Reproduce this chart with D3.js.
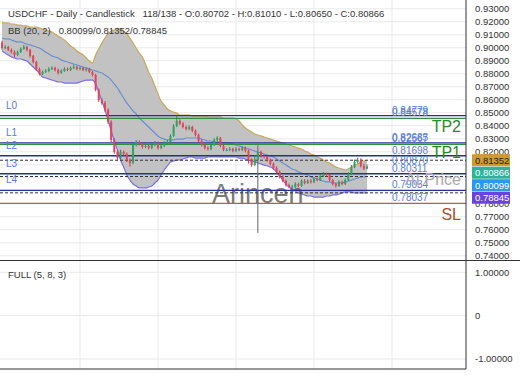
<!DOCTYPE html>
<html><head><meta charset="utf-8">
<script src="https://cdn.jsdelivr.net/npm/d3@7"></script>
<style>
html,body{margin:0;padding:0;background:#fff;}
svg{display:block;font-family:"Liberation Sans",Arial,sans-serif;}
</style></head><body>
<svg id="c" width="520" height="390"></svg>
<script>
// ---------- DATA ----------
const openP = [0.9040,0.8999,0.9007,0.8984,0.8968,0.8945,0.8968,0.8991,0.9007,0.8984,
0.8937,0.8891,0.8837,0.8799,0.8814,0.8822,0.8837,0.8845,0.8830,0.8807,
0.8822,0.8837,0.8830,0.8845,0.8853,0.8837,0.8845,0.8830,0.8837,0.8814,
0.8791,0.8676,0.8599,0.8576,0.8522,0.8430,0.8291,0.8199,0.8153,0.8199,
0.8184,0.8138,0.8115,0.8253,0.8276,0.8261,0.8238,0.8245,0.8230,0.8253,
0.8268,0.8230,0.8245,0.8268,0.8276,0.8322,0.8399,0.8438,0.8415,0.8391,
0.8376,0.8391,0.8361,0.8330,0.8284,0.8253,0.8230,0.8222,0.8253,0.8291,
0.8307,0.8245,0.8215,0.8215,0.8222,0.8207,0.8222,0.8215,0.8230,0.8207,
0.8138,0.8099,0.8138,0.8199,0.8168,0.8161,0.8138,0.8107,0.8076,0.8045,
0.8007,0.7976,0.7945,0.7930,0.7930,0.7953,0.7938,0.7976,0.7961,0.7976,
0.7968,0.7991,0.7984,0.8014,0.8030,0.8022,0.7984,0.7953,0.7938,0.7968,
0.7953,0.7984,0.8030,0.8084,0.8122,0.8138,0.8091,0.80702];
const closeP = [0.8999,0.9007,0.8984,0.8968,0.8945,0.8968,0.8991,0.9007,0.8984,0.8937,
0.8891,0.8837,0.8799,0.8814,0.8822,0.8837,0.8845,0.8830,0.8807,0.8822,
0.8837,0.8830,0.8845,0.8853,0.8837,0.8845,0.8830,0.8837,0.8814,0.8791,
0.8676,0.8599,0.8576,0.8522,0.8430,0.8291,0.8199,0.8153,0.8199,0.8184,
0.8138,0.8115,0.8253,0.8276,0.8261,0.8238,0.8245,0.8230,0.8253,0.8268,
0.8230,0.8245,0.8268,0.8276,0.8322,0.8399,0.8438,0.8415,0.8391,0.8376,
0.8391,0.8361,0.8330,0.8284,0.8253,0.8230,0.8222,0.8253,0.8291,0.8307,
0.8245,0.8215,0.8215,0.8222,0.8207,0.8222,0.8215,0.8230,0.8207,0.8138,
0.8099,0.8138,0.8199,0.8168,0.8161,0.8138,0.8107,0.8076,0.8045,0.8007,
0.7976,0.7945,0.7930,0.7930,0.7953,0.7938,0.7976,0.7961,0.7976,0.7968,
0.7991,0.7984,0.8014,0.8030,0.8022,0.7984,0.7953,0.7938,0.7968,0.7953,
0.7984,0.8030,0.8084,0.8122,0.8138,0.8091,0.8070,0.80866];
const highP = [0.9055,0.9020,0.9015,0.8995,0.8980,0.8978,0.9003,0.9020,0.9015,0.8992,
0.8945,0.8900,0.8848,0.8825,0.8835,0.8850,0.8858,0.8855,0.8840,0.8834,
0.8850,0.8848,0.8856,0.8866,0.8862,0.8857,0.8854,0.8850,0.8846,0.8822,
0.8800,0.8688,0.8612,0.8590,0.8535,0.8442,0.8305,0.8212,0.8215,0.8210,
0.8195,0.8150,0.8268,0.8290,0.8288,0.8272,0.8262,0.8258,0.8266,0.8282,
0.8278,0.8258,0.8280,0.8290,0.8335,0.8412,0.8478,0.8450,0.8428,0.8402,
0.8404,0.8400,0.8372,0.8340,0.8295,0.8265,0.8242,0.8265,0.8305,0.8320,
0.8315,0.8255,0.8228,0.8235,0.8232,0.8236,0.8232,0.8242,0.8240,0.8215,
0.8150,0.8175,0.8250,0.8210,0.8180,0.8172,0.8148,0.8118,0.8088,0.8056,
0.8018,0.7988,0.7956,0.7945,0.7966,0.7962,0.7988,0.7990,0.7988,0.7990,
0.8004,0.8002,0.8026,0.8045,0.8040,0.8030,0.7992,0.7962,0.7980,0.7978,
0.7995,0.8042,0.8098,0.8140,0.8155,0.8150,0.8110,0.81010];
const lowP = [0.8985,0.8990,0.8975,0.8955,0.8930,0.8938,0.8960,0.8985,0.8972,0.8925,
0.8880,0.8825,0.8788,0.8790,0.8805,0.8812,0.8828,0.8818,0.8795,0.8800,
0.8815,0.8820,0.8822,0.8836,0.8828,0.8827,0.8820,0.8818,0.8805,0.8780,
0.8665,0.8585,0.8562,0.8508,0.8415,0.8275,0.8185,0.8135,0.8140,0.8170,
0.8120,0.8085,0.8105,0.8240,0.8248,0.8225,0.8228,0.8218,0.8220,0.8242,
0.8218,0.8220,0.8236,0.8258,0.8265,0.8315,0.8390,0.8405,0.8380,0.8365,
0.8366,0.8350,0.8318,0.8272,0.8240,0.8218,0.8210,0.8212,0.8245,0.8280,
0.8235,0.8205,0.8203,0.8205,0.8196,0.8198,0.8204,0.8205,0.8196,0.8110,
0.8085,0.8090,0.7576,0.8155,0.8148,0.8125,0.8095,0.8064,0.8032,0.7995,
0.7965,0.7932,0.7918,0.7920,0.7922,0.7926,0.7930,0.7950,0.7952,0.7956,
0.7958,0.7972,0.7975,0.8005,0.8010,0.7972,0.7940,0.7925,0.7930,0.7942,
0.7945,0.7975,0.8020,0.8075,0.8110,0.8080,0.8060,0.80650];
const bbUpper = [0.9198,0.9191,0.9191,0.9183,0.9183,0.9175,0.9175,0.9168,0.9168,0.9160,
0.9160,0.9160,0.9152,0.9145,0.9137,0.9129,0.9122,0.9106,0.9091,0.9075,
0.9060,0.9037,0.9014,0.8998,0.8975,0.8960,0.8945,0.8922,0.8898,0.8883,
0.8945,0.8991,0.9037,0.9075,0.9106,0.9129,0.9137,0.9145,0.9145,0.9129,
0.9106,0.9075,0.9037,0.8998,0.8960,0.8929,0.8875,0.8814,0.8768,0.8706,
0.8645,0.8591,0.8560,0.8529,0.8514,0.8506,0.8498,0.8483,0.8483,0.8483,
0.8483,0.8475,0.8475,0.8475,0.8475,0.8475,0.8468,0.8468,0.8468,0.8468,
0.8468,0.8460,0.8460,0.8460,0.8460,0.8452,0.8437,0.8406,0.8383,0.8368,
0.8352,0.8337,0.8329,0.8322,0.8314,0.8306,0.8298,0.8291,0.8283,0.8275,
0.8268,0.8260,0.8252,0.8245,0.8237,0.8229,0.8222,0.8206,0.8198,0.8183,
0.8175,0.8160,0.8152,0.8137,0.8122,0.8114,0.8098,0.8083,0.8075,0.8068,
0.8060,0.8068,0.8083,0.8098,0.8106,0.8122,0.8129,0.81352];
const bbMid = [0.9075,0.9068,0.9068,0.9060,0.9052,0.9045,0.9045,0.9037,0.9029,0.9022,
0.9014,0.9006,0.8998,0.8983,0.8968,0.8952,0.8937,0.8929,0.8922,0.8906,
0.8898,0.8891,0.8883,0.8875,0.8868,0.8860,0.8852,0.8845,0.8837,0.8829,
0.8822,0.8814,0.8806,0.8791,0.8775,0.8752,0.8722,0.8691,0.8652,0.8614,
0.8575,0.8545,0.8514,0.8491,0.8460,0.8437,0.8414,0.8391,0.8368,0.8345,
0.8322,0.8306,0.8298,0.8291,0.8291,0.8291,0.8298,0.8298,0.8298,0.8306,
0.8306,0.8306,0.8306,0.8306,0.8298,0.8291,0.8283,0.8283,0.8275,0.8275,
0.8275,0.8268,0.8268,0.8268,0.8260,0.8252,0.8245,0.8237,0.8229,0.8222,
0.8214,0.8206,0.8198,0.8191,0.8183,0.8175,0.8168,0.8160,0.8145,0.8129,
0.8114,0.8098,0.8083,0.8068,0.8060,0.8045,0.8037,0.8029,0.8022,0.8006,
0.7998,0.7991,0.7983,0.7975,0.7968,0.7968,0.7960,0.7960,0.7960,0.7960,
0.7968,0.7975,0.7983,0.7991,0.7998,0.8006,0.8006,0.80099];
const bbLower = [0.8975,0.8960,0.8945,0.8929,0.8922,0.8914,0.8914,0.8906,0.8898,0.8875,
0.8852,0.8829,0.8806,0.8775,0.8768,0.8760,0.8752,0.8745,0.8737,0.8737,
0.8729,0.8729,0.8729,0.8729,0.8729,0.8737,0.8745,0.8752,0.8752,0.8752,
0.8722,0.8660,0.8591,0.8522,0.8445,0.8360,0.8283,0.8214,0.8137,0.8083,
0.8022,0.7983,0.7952,0.7937,0.7922,0.7922,0.7922,0.7929,0.7937,0.7960,
0.7983,0.8022,0.8060,0.8091,0.8122,0.8129,0.8137,0.8137,0.8145,0.8152,
0.8160,0.8160,0.8152,0.8152,0.8152,0.8152,0.8160,0.8160,0.8160,0.8160,
0.8160,0.8160,0.8160,0.8160,0.8160,0.8160,0.8152,0.8152,0.8145,0.8137,
0.8129,0.8122,0.8114,0.8106,0.8098,0.8091,0.8083,0.8068,0.8045,0.8014,
0.7983,0.7952,0.7929,0.7914,0.7898,0.7883,0.7875,0.7868,0.7860,0.7860,
0.7852,0.7852,0.7852,0.7852,0.7860,0.7860,0.7868,0.7868,0.7875,0.7883,
0.7891,0.7891,0.7891,0.7883,0.7883,0.7883,0.7883,0.78845];

const levelNames = ["L0","L1","L2","L3","L4"];
const levelValues = [0.84779,0.82685,0.81698,0.80311,0.79034];
const tpNames = ["TP2","TP1"];
const tpValues = [0.84578,0.82567];
const entryName = "At Price";
const entryValue = 0.80870;
const slName = "SL";
const slValue = 0.78037;
const bbLastValues = [0.81352,0.80099,0.78845];
const lastClose = 0.80866;
const priceTicks = [0.93,0.92,0.91,0.90,0.89,0.88,0.87,0.86,0.85,0.84,0.83,0.82,0.81,0.80,0.79,0.78,0.77,0.76,0.75,0.74];
const oscTicks = [1,0,-1];
const oscTickLabels = ["1.00000","0","-1.00000"];
const gridBars = [25,50,75,100,125];
const titleText = "USDCHF - Daily - Candlestick   118/138 - O:0.80702 - H:0.81010 - L:0.80650 - C:0.80866";
const bbTitle = "BB (20, 2)   0.80099/0.81352/0.78845";
const oscTitle = "FULL (5, 8, 3)";
const watermark = "Arincen";

// ---------- LAYOUT ----------
const plotRight = 466, mainBottom = 260.5, oscBottom = 369;
const x = d3.scaleLinear().domain([0,125]).range([2,392]);
const y = d3.scaleLinear().domain([0.74,0.93]).range([255.8,8.8]);
const yo = d3.scaleLinear().domain([-1,1]).range([359,272.3]);
const idx = d3.range(closeP.length);
const FONT = '"Liberation Sans",Arial,sans-serif';

const svg = d3.select("#c");
const defs = svg.append("defs");
defs.append("clipPath").attr("id","clipMain").append("rect").attr("x",0).attr("y",0).attr("width",plotRight).attr("height",mainBottom);
defs.append("clipPath").attr("id","clipAxis").append("rect").attr("x",0).attr("y",0).attr("width",60).attr("height",mainBottom);

const main = svg.append("g").attr("clip-path","url(#clipMain)");

// grid
main.selectAll("line.hg").data(priceTicks).join("line")
  .attr("x1",0).attr("x2",plotRight).attr("y1",d=>y(d)).attr("y2",d=>y(d))
  .attr("stroke","#e9e9e9").attr("stroke-width",1);
main.selectAll("line.vg").data(gridBars).join("line")
  .attr("x1",d=>x(d)).attr("x2",d=>x(d)).attr("y1",0).attr("y2",mainBottom)
  .attr("stroke","#e9e9e9").attr("stroke-width",1);

// Bollinger band fill + lines
const curve = d3.curveMonotoneX;
main.append("path").datum(idx)
  .attr("d", d3.area().x(i=>x(i)).y0(i=>y(bbLower[i])).y1(i=>y(bbUpper[i])).curve(curve))
  .attr("fill","#c2c2c2");
const bbLine = (arr,color)=> main.append("path").datum(idx)
  .attr("d", d3.line().x(i=>x(i)).y(i=>y(arr[i])).curve(curve))
  .attr("fill","none").attr("stroke",color).attr("stroke-width",1.2);
bbLine(bbUpper,"#c9a85a");
bbLine(bbMid,"#6a8fd0");
bbLine(bbLower,"#7b6fe6");

// watermark
main.append("text").text(watermark).attr("x",212).attr("y",203)
  .attr("font-size",27).attr("font-family",FONT).attr("fill","#555").attr("fill-opacity",0.8);

// dotted lines at current BB values
main.selectAll("line.bbl").data(bbLastValues).join("line")
  .attr("x1",0).attr("x2",plotRight).attr("y1",d=>y(d)).attr("y2",d=>y(d))
  .attr("stroke","#333").attr("stroke-width",1).attr("stroke-dasharray","3,2");

// level lines
main.selectAll("line.lv").data(levelValues).join("line")
  .attr("x1",0).attr("x2",plotRight).attr("y1",d=>y(d)).attr("y2",d=>y(d))
  .attr("stroke","#27308f").attr("stroke-width",1.3);
main.selectAll("line.tp").data(tpValues).join("line")
  .attr("x1",0).attr("x2",plotRight).attr("y1",d=>y(d)).attr("y2",d=>y(d))
  .attr("stroke","#2f8f3a").attr("stroke-width",1.3);
main.append("line").attr("x1",0).attr("x2",plotRight).attr("y1",y(slValue)).attr("y2",y(slValue))
  .attr("stroke","#b0683a").attr("stroke-width",1.3);

// candles
const cg = main.append("g");
cg.selectAll("line.w").data(idx).join("line")
  .attr("x1",i=>x(i)).attr("x2",i=>x(i)).attr("y1",i=>y(highP[i])).attr("y2",i=>y(lowP[i]))
  .attr("stroke",i=> i===82 ? "#666" : (closeP[i]>=openP[i]?"#2b8a55":"#c83c55")).attr("stroke-width",1);
cg.selectAll("rect.b").data(idx).join("rect")
  .attr("x",i=>x(i)-1).attr("width",2)
  .attr("y",i=>y(Math.max(openP[i],closeP[i])))
  .attr("height",i=>Math.max(1,Math.abs(y(openP[i])-y(closeP[i]))))
  .attr("fill",i=>closeP[i]>=openP[i]?"#2fa462":"#e2435f");

// level labels
const allVals = levelValues.concat(tpValues,[entryValue,slValue]);
main.selectAll("text.lvv").data(allVals).join("text")
  .attr("x",392).attr("y",d=>y(d)-2).text(d=>d3.format(".5f")(d))
  .attr("font-size",10).attr("font-family",FONT).attr("fill","#5a7ed6");
main.selectAll("text.lvn").data(levelNames).join("text")
  .attr("x",6).attr("y",(d,i)=>y(levelValues[i])-7).text(d=>d)
  .attr("font-size",10).attr("font-family",FONT).attr("fill","#5a7ed6");
main.selectAll("text.tpn").data(tpNames).join("text")
  .attr("x",461).attr("y",(d,i)=>y(tpValues[i])+14).text(d=>d).attr("text-anchor","end")
  .attr("font-size",16).attr("font-family",FONT).attr("fill","#2a8a2a");
main.append("text").attr("x",461).attr("y",y(entryValue)+19).text(entryName).attr("text-anchor","end")
  .attr("font-size",16).attr("font-family",FONT).attr("fill","#a8a8a8");
main.append("text").attr("x",461).attr("y",y(slValue)+17).text(slName).attr("text-anchor","end")
  .attr("font-size",16).attr("font-family",FONT).attr("fill","#a5502d");

// titles
svg.append("text").attr("x",8).attr("y",16.5).text(titleText).style("white-space","pre")
  .attr("font-size",9.5).attr("font-family",FONT).attr("fill","#333");
svg.append("text").attr("x",8).attr("y",33.5).text(bbTitle).style("white-space","pre")
  .attr("font-size",9.5).attr("font-family",FONT).attr("fill","#333");

// last value boxes (stacked)
const boxVals = [
  {v:bbLastValues[0], fill:"#d29a2e", tc:"#222"},
  {v:lastClose, fill:"#2eb39b", tc:"#fff"},
  {v:bbLastValues[1], fill:"#2b98ee", tc:"#fff"},
  {v:bbLastValues[2], fill:"#6a42e0", tc:"#fff"}
];
let prevBottom = -1e9;
boxVals.forEach(b=>{ b.top = Math.max(y(b.v)-6, prevBottom+0.5); prevBottom = b.top+12; });
const boxTop = boxVals[0].top, boxBottom = prevBottom;

// price axis (labels whose centre lies behind the value boxes are not drawn)
const shownTicks = priceTicks.filter(t => y(t) < boxTop || y(t) > boxBottom);
const gAxis = svg.append("g").attr("transform",`translate(${plotRight},0)`).attr("clip-path","url(#clipAxis)")
  .call(d3.axisRight(y).tickValues(shownTicks).tickFormat(d3.format(".5f")).tickSize(0).tickPadding(9));
gAxis.select(".domain").remove();
gAxis.attr("font-family",FONT).attr("font-size",9.5);
gAxis.selectAll("text").attr("fill","#333");

const bx = svg.append("g");
bx.selectAll("rect").data(boxVals).join("rect")
  .attr("x",472).attr("y",d=>d.top).attr("width",38).attr("height",12).attr("fill",d=>d.fill);
bx.selectAll("text").data(boxVals).join("text")
  .attr("x",475).attr("y",d=>d.top+6).attr("dy","0.35em").text(d=>d3.format(".5f")(d.v))
  .attr("font-size",9.5).attr("font-family",FONT).attr("fill",d=>d.tc);

// oscillator panel
const osc = svg.append("g");
osc.selectAll("line.oh").data(oscTicks).join("line")
  .attr("x1",0).attr("x2",plotRight).attr("y1",d=>yo(d)).attr("y2",d=>yo(d))
  .attr("stroke","#e9e9e9");
osc.selectAll("line.ov").data(gridBars).join("line")
  .attr("x1",d=>x(d)).attr("x2",d=>x(d)).attr("y1",mainBottom).attr("y2",oscBottom)
  .attr("stroke","#e9e9e9");
osc.selectAll("text.ot").data(oscTicks).join("text")
  .attr("x",475).attr("y",d=>yo(d)).attr("dy","0.35em").text((d,i)=>oscTickLabels[i])
  .attr("font-size",9.5).attr("font-family",FONT).attr("fill","#333");
osc.append("text").attr("x",8).attr("y",277.5).text(oscTitle)
  .attr("font-size",9.5).attr("font-family",FONT).attr("fill","#333");

// borders
svg.append("line").attr("x1",0).attr("x2",520).attr("y1",mainBottom).attr("y2",mainBottom).attr("stroke","#333").attr("stroke-width",1);
svg.append("line").attr("x1",plotRight).attr("x2",plotRight).attr("y1",0).attr("y2",oscBottom).attr("stroke","#333").attr("stroke-width",1);
svg.append("line").attr("x1",0).attr("x2",plotRight).attr("y1",oscBottom).attr("y2",oscBottom).attr("stroke","#333").attr("stroke-width",1);
</script>
</body></html>
